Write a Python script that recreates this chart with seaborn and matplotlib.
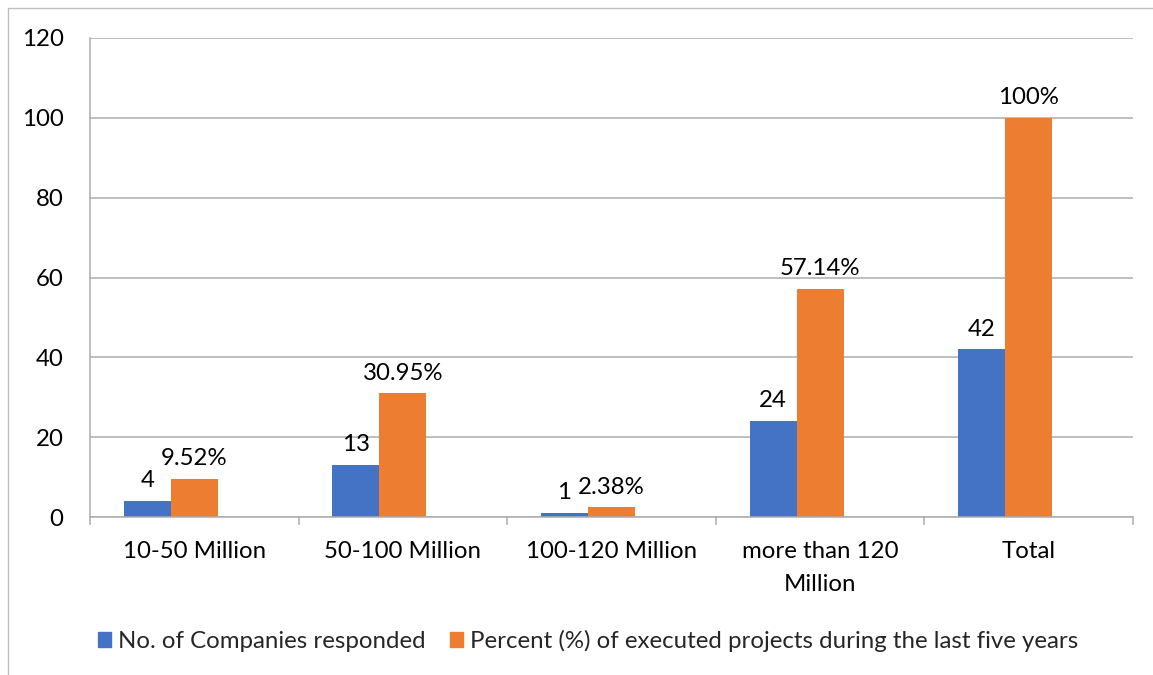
import matplotlib
matplotlib.use("Agg")
import matplotlib.pyplot as plt
import seaborn as sns
import pandas as pd
import numpy as np
from matplotlib.patches import Rectangle
from matplotlib.ticker import FixedLocator, NullFormatter

categories = ["10-50 Million", "50-100 Million", "100-120 Million", "more than 120\nMillion", "Total"]
companies = [4, 13, 1, 24, 42]
percent = [9.52, 30.95, 2.38, 57.14, 100]
company_labels = ["4", "13", "1", "24", "42"]
percent_labels = ["9.52%", "30.95%", "2.38%", "57.14%", "100%"]
series_names = ["No. of Companies responded",
                "Percent (%) of executed projects during the last five years",
                "(blank)"]

sns.set_theme(style="white")
plt.rcParams['font.family'] = ['Lato', 'DejaVu Sans']

df = pd.DataFrame({
    "category": categories * 3,
    "value": companies + percent + [np.nan] * len(categories),
    "series": [series_names[0]] * 5 + [series_names[1]] * 5 + [series_names[2]] * 5,
})

fig = plt.figure(figsize=(11.53, 6.75), dpi=100)
ax = fig.add_axes([90 / 1153, 1 - 517 / 675, (1133 - 90) / 1153, (517 - 38) / 675])

palette = {series_names[0]: "#4472C4", series_names[1]: "#ED7D31", series_names[2]: "#A5A5A5"}
sns.barplot(data=df, x="category", y="value", hue="series", hue_order=series_names,
            order=categories, palette=palette, width=0.676, gap=0, saturation=1,
            linewidth=0, ax=ax, legend=False)

ax.set_ylim(0, 120)
ax.set_xlim(-0.5, 4.5)
ax.set_yticks(np.arange(0, 121, 20))
grid_color = "#acacac"
ax.yaxis.grid(True, color=grid_color, linewidth=1.1)
ax.set_axisbelow(True)
for s in ["top", "right"]:
    ax.spines[s].set_visible(False)
for s in ["left", "bottom"]:
    ax.spines[s].set_color(grid_color)
    ax.spines[s].set_linewidth(1.1)
ax.set_xlabel("")
ax.set_ylabel("")

fs = 17.3
ax.tick_params(axis="y", which="major", length=6, width=1.1, color=grid_color,
               labelsize=fs, pad=13, labelcolor="black")
ax.tick_params(axis="x", which="major", length=0, labelsize=fs, pad=17, labelcolor="black")
ax.xaxis.set_minor_locator(FixedLocator(np.arange(-0.5, 5, 1)))
ax.xaxis.set_minor_formatter(NullFormatter())
ax.tick_params(axis="x", which="minor", length=6, width=1.1, color=grid_color, bottom=True)
for lbl in ax.get_xticklabels():
    lbl.set_linespacing(1.75)

containers = ax.containers
ax.bar_label(containers[0], labels=company_labels, padding=7, fontsize=fs, color="black")
ax.bar_label(containers[1], labels=percent_labels, padding=7, fontsize=fs, color="black")

handles = [Rectangle((0, 0), 1, 1, color="#4472C4"), Rectangle((0, 0), 1, 1, color="#ED7D31")]
fig.legend(handles, series_names[:2], loc="center", bbox_to_anchor=(588 / 1153, 1 - 641 / 675),
           ncol=2, frameon=False, fontsize=fs, handlelength=0.55, handleheight=0.55,
           handletextpad=0.3, columnspacing=1.0)

# outer chart border (only partly visible)
fig.add_artist(Rectangle((8 / 1153, -0.05), 1.2, 1 - 8 / 675 + 0.05, transform=fig.transFigure,
                         fill=False, edgecolor="#bfbfbf", linewidth=1.0))

fig.savefig("out.png", dpi=100)
